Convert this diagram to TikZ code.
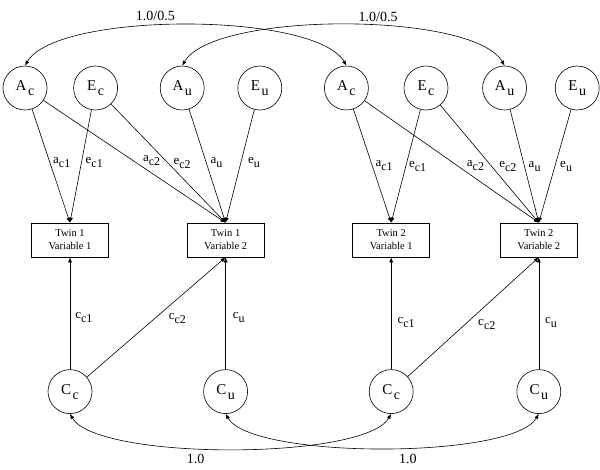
\documentclass[tikz,border=0pt]{standalone}
\usepackage{fontspec}
\setmainfont{Liberation Serif}
\usetikzlibrary{arrows.meta,positioning}
\newcommand{\latname}[2]{#1\kern1.5pt\raisebox{-5pt}{\fontsize{14}{14}\selectfont #2}}
\newcommand{\pathname}[2]{#1\raisebox{-4pt}{\fontsize{12}{12}\selectfont #2}}

\begin{document}
\begin{tikzpicture}[x=1pt, y=-1pt, line width=0.6pt, every node/.style={font=\fontsize{13}{15}\selectfont}, latent/.style={draw,circle,minimum size=44pt,inner sep=0pt,font=\fontsize{15}{17}\selectfont}, box/.style={draw,align=center,minimum width=77pt,minimum height=34pt,inner sep=2pt,font=\fontsize{10.5}{13}\selectfont}, lbl/.style={inner sep=1pt}, corr/.style={font=\fontsize{14}{16}\selectfont}, arr/.style={-{Latex[length=5pt,width=4pt]}}, dbl/.style={{Latex[length=5pt,width=4pt]}-{Latex[length=5pt,width=4pt]}}]
\useasboundingbox (0,0) rectangle (600,469);
% measured variables
\node[box] (tw11) at (70,240) {Twin 1\\Variable 1};
\node[box,right=78pt of tw11] (tw12) {Twin 1\\Variable 2};
\node[box,right=88pt of tw12] (tw21) {Twin 2\\Variable 1};
\node[box,right=70pt of tw21] (tw22) {Twin 2\\Variable 2};
% latent factors, top row
\node[latent] (Ac1) at (25,88) {\latname{A}{c}};
\node[latent,right=26pt of Ac1] (Ec1) {\latname{E}{c}};
\node[latent,right=42pt of Ec1] (Au1) {\latname{A}{u}};
\node[latent,right=33pt of Au1] (Eu1) {\latname{E}{u}};
\node[latent,right=42pt of Eu1] (Ac2) {\latname{A}{c}};
\node[latent,right=35pt of Ac2] (Ec2) {\latname{E}{c}};
\node[latent,right=34pt of Ec2] (Au2) {\latname{A}{u}};
\node[latent,right=28pt of Au2] (Eu2) {\latname{E}{u}};
% latent factors, bottom row
\node[latent,below=112pt of tw11] (Cc1) {\latname{C}{c}};
\node[latent,below=112pt of tw12] (Cu1) {\latname{C}{u}};
\node[latent,below=112pt of tw21] (Cc2) {\latname{C}{c}};
\node[latent,below=112pt of tw22] (Cu2) {\latname{C}{u}};
% twin 1 paths
\draw[arr] (Ac1) -- node[lbl,pos=.47,right=2pt]{\pathname{a}{c1}} (tw11.north);
\draw[arr] (Ec1) -- node[lbl,pos=.47,right=3pt]{\pathname{e}{c1}} (tw11.north);
\draw[arr] (Ac1) -- node[lbl,pos=.54,above right]{\pathname{a}{c2}} (tw12.north);
\draw[arr] (Ec1) -- node[lbl,pos=.5,right=4pt]{\pathname{e}{c2}} (tw12.north);
\draw[arr] (Au1) -- node[lbl,pos=.47,right=3pt]{\pathname{a}{u}} (tw12.north);
\draw[arr] (Eu1) -- node[lbl,pos=.47,right=6pt]{\pathname{e}{u}} (tw12.north);
\draw[arr] (Cc1) -- node[lbl,pos=.46,right=4pt]{\pathname{c}{c1}} (tw11.south);
\draw[arr] (Cc1) -- node[lbl,pos=.545,anchor=north west,xshift=5pt]{\pathname{c}{c2}} (tw12.south);
\draw[arr] (Cu1) -- node[lbl,pos=.46,right=6pt]{\pathname{c}{u}} (tw12.south);
% twin 2 paths
\draw[arr] (Ac2) -- node[lbl,pos=.5,right=2pt]{\pathname{a}{c1}} (tw21.north);
\draw[arr] (Ec2) -- node[lbl,pos=.5,right=2pt]{\pathname{e}{c1}} (tw21.north);
\draw[arr] (Ac2) -- node[lbl,pos=.58,above right]{\pathname{a}{c2}} (tw22.north);
\draw[arr] (Ec2) -- node[lbl,pos=.525,right=6pt]{\pathname{e}{c2}} (tw22.north);
\draw[arr] (Au2) -- node[lbl,pos=.5,right=3pt]{\pathname{a}{u}} (tw22.north);
\draw[arr] (Eu2) -- node[lbl,pos=.5,right=4pt]{\pathname{e}{u}} (tw22.north);
\draw[arr] (Cc2) -- node[lbl,pos=.42,right=5pt]{\pathname{c}{c1}} (tw21.south);
\draw[arr] (Cc2) -- node[lbl,pos=.49,anchor=north west,xshift=5pt]{\pathname{c}{c2}} (tw22.south);
\draw[arr] (Cu2) -- node[lbl,pos=.42,right=5pt]{\pathname{c}{u}} (tw22.south);
% correlations between twins
\draw[dbl] (Ac1.north) to[out=60,in=120,looseness=.5] node[corr,pos=.43,above=1pt]{1.0/0.5} (Ac2.north);
\draw[dbl] (Au1.north) to[out=60,in=120,looseness=.5] node[corr,pos=.58,above=1pt]{1.0/0.5} (Au2.north);
\draw[dbl] (Cc1.south) to[out=-60,in=-120,looseness=.43] node[corr,pos=.42,below=3pt]{1.0} (Cc2.south);
\draw[dbl] (Cu1.south) to[out=-60,in=-120,looseness=.43] node[corr,pos=.56,below=3pt]{1.0} (Cu2.south);
\end{tikzpicture}
\end{document}
